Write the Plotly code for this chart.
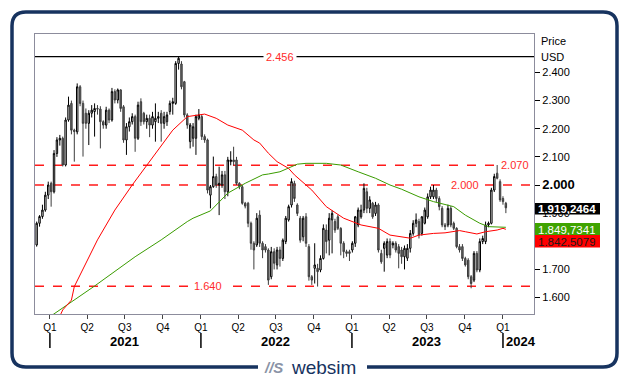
import plotly.graph_objects as go
import pandas as pd

# ---------------- data ----------------
open_ = [1.787,1.864,1.888,1.911,1.964,2.006,1.976,2.112,2.160,2.166,2.071,2.231,2.290,2.195,2.189,2.349,2.290,2.255,2.219,2.255,
         2.261,2.272,2.270,2.225,2.213,2.266,2.231,2.332,2.302,2.338,2.278,2.160,2.207,2.225,2.243,2.166,2.296,2.255,2.225,2.237,
         2.213,2.225,2.237,2.255,2.219,2.225,2.261,2.290,2.290,2.432,2.430,2.367,2.249,2.154,2.166,2.166,2.237,2.243,2.172,2.160,
         1.964,1.994,2.030,2.000,2.000,2.036,1.976,2.083,2.089,2.089,2.006,1.994,1.935,1.935,1.864,1.793,1.787,1.893,1.793,1.781,
         1.769,1.674,1.763,1.716,1.769,1.739,1.799,1.876,1.929,2.006,1.929,1.882,1.816,1.887,1.781,1.674,1.704,1.704,1.698,1.739,
         1.840,1.804,1.876,1.870,1.887,1.846,1.793,1.763,1.763,1.769,1.793,1.858,1.887,1.911,1.976,1.917,1.935,1.899,1.929,1.757,
         1.775,1.751,1.799,1.787,1.793,1.781,1.769,1.745,1.740,1.775,1.828,1.864,1.870,1.828,1.864,1.887,1.958,1.958,1.982,1.952,
         1.917,1.858,1.858,1.917,1.864,1.846,1.781,1.781,1.739,1.733,1.674,1.662,1.757,1.698,1.799,1.799,1.858,1.864,1.982,2.042,
         2.012,1.952,1.935]
high = [1.870,1.893,1.930,1.976,2.012,2.012,2.124,2.170,2.178,2.172,2.240,2.314,2.300,2.200,2.361,2.355,2.300,2.272,2.266,2.284,
        2.290,2.284,2.280,2.230,2.278,2.272,2.345,2.340,2.343,2.340,2.284,2.220,2.240,2.255,2.250,2.296,2.308,2.260,2.250,2.250,
        2.260,2.290,2.260,2.266,2.260,2.260,2.300,2.310,2.440,2.458,2.440,2.370,2.255,2.220,2.220,2.250,2.270,2.250,2.180,2.165,
        2.000,2.101,2.040,2.065,2.050,2.050,2.100,2.120,2.136,2.100,2.010,2.000,1.940,1.940,1.870,1.800,1.900,1.910,1.800,1.790,
        1.775,1.780,1.775,1.780,1.781,1.810,1.890,1.930,2.024,2.015,1.935,1.890,1.890,1.900,1.790,1.680,1.793,1.720,1.750,1.860,
        1.860,1.900,1.910,1.880,1.895,1.850,1.800,1.770,1.770,1.800,1.890,1.920,1.930,2.006,1.990,1.960,1.940,1.940,1.935,1.770,
        1.800,1.810,1.810,1.800,1.800,1.790,1.780,1.785,1.790,1.840,1.875,1.899,1.880,1.890,1.920,1.970,1.994,2.000,1.990,1.960,
        1.925,1.865,1.930,1.925,1.870,1.850,1.790,1.790,1.745,1.740,1.680,1.765,1.765,1.810,1.820,1.870,1.870,1.990,2.040,2.071,
        2.020,1.960,1.940]
low = [1.781,1.852,1.880,1.905,1.950,1.923,1.970,2.100,2.140,2.066,2.066,2.225,2.180,2.083,2.180,2.280,2.101,2.200,2.142,2.240,
       2.172,2.250,2.130,2.200,2.200,2.220,2.225,2.290,2.290,2.260,2.150,2.107,2.190,2.215,2.118,2.160,2.210,2.215,2.200,2.170,
       2.200,2.154,2.220,2.154,2.200,2.210,2.250,2.250,2.285,2.410,2.340,2.240,2.200,2.130,2.136,2.107,2.230,2.160,2.150,1.970,
       1.917,1.990,1.990,1.893,1.990,1.950,1.960,2.070,2.070,2.000,1.985,1.930,1.917,1.850,1.770,1.700,1.780,1.780,1.740,1.760,
       1.645,1.665,1.700,1.700,1.710,1.730,1.790,1.870,1.920,1.940,1.890,1.795,1.800,1.780,1.660,1.645,1.650,1.639,1.690,1.735,
       1.757,1.750,1.757,1.830,1.840,1.750,1.740,1.745,1.730,1.760,1.780,1.850,1.880,1.900,1.900,1.900,1.880,1.890,1.760,1.720,
       1.692,1.740,1.740,1.775,1.760,1.704,1.720,1.700,1.730,1.760,1.820,1.850,1.810,1.820,1.860,1.880,1.950,1.950,1.940,1.910,
       1.850,1.840,1.850,1.850,1.840,1.775,1.760,1.730,1.710,1.665,1.633,1.655,1.690,1.690,1.790,1.790,1.850,1.860,1.975,2.020,
       1.940,1.930,1.900]
close = [1.864,1.888,1.911,1.964,2.000,1.976,2.112,2.160,2.166,2.071,2.231,2.284,2.195,2.190,2.349,2.290,2.219,2.219,2.255,2.266,
         2.272,2.270,2.225,2.213,2.266,2.231,2.332,2.302,2.338,2.272,2.160,2.207,2.225,2.243,2.166,2.284,2.225,2.225,2.237,2.213,
         2.243,2.237,2.243,2.219,2.243,2.249,2.290,2.296,2.432,2.450,2.349,2.249,2.213,2.213,2.207,2.243,2.249,2.172,2.160,1.982,
         1.994,2.030,2.000,2.006,2.036,1.976,2.089,2.089,2.083,2.006,1.994,1.935,1.925,1.864,1.793,1.769,1.882,1.793,1.769,1.769,
         1.662,1.763,1.722,1.769,1.739,1.804,1.882,1.923,2.012,1.952,1.899,1.804,1.882,1.793,1.674,1.662,1.716,1.692,1.739,1.846,
         1.799,1.882,1.899,1.840,1.846,1.793,1.763,1.757,1.757,1.793,1.887,1.911,1.911,1.988,1.917,1.947,1.887,1.929,1.769,1.727,
         1.793,1.799,1.751,1.793,1.769,1.757,1.745,1.775,1.775,1.828,1.864,1.876,1.822,1.887,1.911,1.958,1.982,1.982,1.952,1.923,
         1.858,1.852,1.917,1.858,1.846,1.781,1.769,1.739,1.716,1.674,1.650,1.757,1.698,1.799,1.810,1.858,1.864,1.982,2.030,2.024,
         1.947,1.941,1.919]
first_week = "2020-11-30"

# moving averages, read at selected weeks (week index into the candle list)
red_ma_weeks = [6, 9, 12, 13, 21, 27, 33, 38, 42, 47, 52, 57, 58, 62, 66, 71, 75, 77, 80, 83, 87, 89, 95, 100, 106,
                112, 118, 122, 126, 129, 132, 137, 141, 146, 148, 152, 155, 159, 161, 162]
red_ma = [1.49, 1.556, 1.591, 1.639, 1.805, 1.911, 2.000, 2.071, 2.124, 2.195, 2.243, 2.252, 2.252, 2.237, 2.213, 2.195,
          2.160, 2.149, 2.113, 2.083, 2.059, 2.036, 1.982, 1.923, 1.882, 1.858, 1.846, 1.822, 1.816, 1.811, 1.822, 1.828,
          1.830, 1.838, 1.834, 1.826, 1.834, 1.840, 1.846, 1.8425]
green_ma_weeks = [5, 8, 13, 20, 34, 43, 52, 54, 60, 66, 72, 78, 80, 84, 90, 93, 100, 105, 111, 117, 122, 126, 132, 137,
                  144, 148, 153, 156, 162]
green_ma = [1.535, 1.556, 1.591, 1.641, 1.745, 1.805, 1.870, 1.882, 1.908, 1.971, 2.006, 2.036, 2.039, 2.047, 2.074,
            2.077, 2.077, 2.071, 2.047, 2.024, 2.000, 1.985, 1.958, 1.941, 1.923, 1.893, 1.864, 1.852, 1.8497]

levels = [2.456, 2.070, 2.000, 1.640]
level_labels = ["2.456", "2.070", "2.000", "1.640"]

y_ticks = [1.6, 1.7, 1.8, 1.9, 2.0, 2.1, 2.2, 2.3, 2.4]
y_tick_text = ["1.600", "1.700", "1.800", "1.900", "<b><span style='font-size:13px'>2.000</span></b>",
               "2.100", "2.200", "2.300", "2.400"]
quarter_dates = ["2021-01-01", "2021-04-01", "2021-07-01", "2021-10-01", "2022-01-01", "2022-04-01", "2022-07-01",
                 "2022-10-01", "2023-01-01", "2023-04-01", "2023-07-01", "2023-10-01", "2024-01-01"]
quarter_text = ["Q1", "Q2", "Q3", "Q4"] * 3 + ["Q1"]
year_labels = ["2021", "2022", "2023", "2024"]
year_label_dates = ["2021-07-01", "2022-07-01", "2023-07-01", "2024-01-01"]
year_starts = ["2021-01-01", "2022-01-01", "2023-01-01", "2024-01-01"]

last_labels = ["1.919,2464", "1.849,7341", "1.842,5079"]

# ---------------- figure ----------------
W, H = 629, 381
L, R, T, B = 35, 534, 34, 314   # plot area in pixels


def px(x):
    return (x - L) / (R - L)


def py(y):
    return (B - y) / (B - T)


dates = pd.date_range(first_week, periods=len(close), freq="7D")
red_dates = [dates[i] for i in red_ma_weeks]
green_dates = [dates[i] for i in green_ma_weeks]

FONT = "Liberation Sans, Arial, sans-serif"
NAVY = "#17335f"

fig = go.Figure()
fig.add_trace(go.Candlestick(
    x=dates, open=open_, high=high, low=low, close=close,
    increasing=dict(line=dict(color="#000000", width=1), fillcolor="#ffffff"),
    decreasing=dict(line=dict(color="#3c3c3c", width=1), fillcolor="#6b6b6b"),
    whiskerwidth=0, showlegend=False, hoverinfo="skip"))
fig.add_trace(go.Scatter(x=green_dates, y=green_ma, mode="lines",
                         line=dict(color="#3a9c00", width=1), showlegend=False, hoverinfo="skip"))
fig.add_trace(go.Scatter(x=red_dates, y=red_ma, mode="lines",
                         line=dict(color="#ff0000", width=1), showlegend=False, hoverinfo="skip"))

shapes = []
annotations = []

# horizontal levels
label_x = [280, 515, 465, 208]
for v, lab, lx in zip(levels, level_labels, label_x):
    solid = lab == "2.456"
    shapes.append(dict(type="line", xref="paper", yref="y", x0=0, x1=1, y0=v, y1=v, layer="below",
                       line=dict(color="#000000" if solid else "#ff1a1a", width=1.3 if solid else 1.5,
                                 dash="solid" if solid else "dash")))
    annotations.append(dict(x=px(lx), y=v, xref="paper", yref="y", text=lab, showarrow=False,
                            font=dict(family=FONT, size=11, color="#ff2a2a"), bgcolor="#ffffff",
                            borderpad=2, xanchor="center", yanchor="middle"))

# year separators and labels
for d in year_starts:
    shapes.append(dict(type="line", xref="x", yref="paper", x0=d, x1=d, y0=py(333), y1=py(348),
                       line=dict(color="#000000", width=1.5)))
for lab, d in zip(year_labels, year_label_dates):
    annotations.append(dict(x=d, y=py(341), xref="x", yref="paper", text="<b>" + lab + "</b>",
                            showarrow=False, font=dict(family=FONT, size=13, color="#000000"),
                            xanchor="left" if lab == "2024" else "center", yanchor="middle",
                            xshift=1 if lab == "2024" else 0))

# axis title on the right
annotations.append(dict(x=px(539), y=py(41), xref="paper", yref="paper", text="Price", showarrow=False,
                        font=dict(family=FONT, size=11, color="#000"), xanchor="left", yanchor="middle"))
annotations.append(dict(x=px(539), y=py(57), xref="paper", yref="paper", text="USD", showarrow=False,
                        font=dict(family=FONT, size=11, color="#000"), xanchor="left", yanchor="middle"))

# last-value badges
badges = [(203, 214.5, "#000000", "#ffffff", True), (223, 235, "#3fa300", "#ffffff", False),
          (235, 247.5, "#ff0000", "#1a1a1a", False)]
for (y0, y1, bg, fg, bold), lab in zip(badges, last_labels):
    shapes.append(dict(type="rect", xref="paper", yref="paper", x0=px(535), x1=px(600), y0=py(y1), y1=py(y0),
                       fillcolor=bg, line=dict(width=0), layer="above"))
    annotations.append(dict(x=px(535.5), y=py((y0 + y1) / 2), xref="paper", yref="paper",
                            text="<b>" + lab + "</b>" if bold else lab, showarrow=False,
                            font=dict(family=FONT, size=11.5, color=fg), xanchor="left", yanchor="middle",
                            height=11))

# outer rounded frame
fx0, fx1, fy0, fy1, rr = 12, 617, 12, 367, 14
path = (f"M {px(fx0 + rr)},{py(fy0)} L {px(fx1 - rr)},{py(fy0)} Q {px(fx1)},{py(fy0)} {px(fx1)},{py(fy0 + rr)} "
        f"L {px(fx1)},{py(fy1 - rr)} Q {px(fx1)},{py(fy1)} {px(fx1 - rr)},{py(fy1)} "
        f"L {px(fx0 + rr)},{py(fy1)} Q {px(fx0)},{py(fy1)} {px(fx0)},{py(fy1 - rr)} "
        f"L {px(fx0)},{py(fy0 + rr)} Q {px(fx0)},{py(fy0)} {px(fx0 + rr)},{py(fy0)} Z")
shapes.append(dict(type="path", xref="paper", yref="paper", path=path, line=dict(color=NAVY, width=3.5),
                   layer="below"))
# gap in the frame for the logo
shapes.append(dict(type="rect", xref="paper", yref="paper", x0=px(258), x1=px(367), y0=py(378), y1=py(358),
                   fillcolor="#ffffff", line=dict(width=0), layer="below"))
annotations.append(dict(x=px(262), y=py(367), xref="paper", yref="paper",
                        text="<b><i>//S</i></b>", showarrow=False,
                        font=dict(family=FONT, size=15, color="#8a93a6"), xanchor="left", yanchor="middle"))
annotations.append(dict(x=px(289), y=py(367), xref="paper", yref="paper", text="websim", showarrow=False,
                        font=dict(family=FONT, size=19, color=NAVY), xanchor="left", yanchor="middle"))

fig.update_layout(
    width=W, height=H, margin=dict(l=L, r=W - R, t=T, b=H - B, pad=0),
    paper_bgcolor="#ffffff", plot_bgcolor="#ffffff",
    font=dict(family=FONT, size=11, color="#000000"),
    shapes=shapes, annotations=annotations, showlegend=False,
    xaxis=dict(type="date", range=["2020-11-26", "2024-03-16"], rangeslider=dict(visible=False),
               tickvals=quarter_dates, ticktext=quarter_text, ticks="outside", ticklen=4, tickcolor="#444",
               tickfont=dict(family=FONT, size=10, color="#000"), showgrid=False, zeroline=False,
               showline=True, linecolor="#8c8c9c", linewidth=1.2, mirror=True),
    yaxis=dict(side="right", range=[1.5416, 2.5366], tickvals=y_ticks, ticktext=y_tick_text,
               ticks="outside", ticklen=5, tickcolor="#000", tickfont=dict(family=FONT, size=11, color="#000"),
               showgrid=False, zeroline=False, showline=True, linecolor="#8c8c9c", linewidth=1.2, mirror=True),
)

fig.write_html("out.html", config={"displayModeBar": False},
               post_script="document.body.style.margin='0';document.body.style.overflow='hidden';")
